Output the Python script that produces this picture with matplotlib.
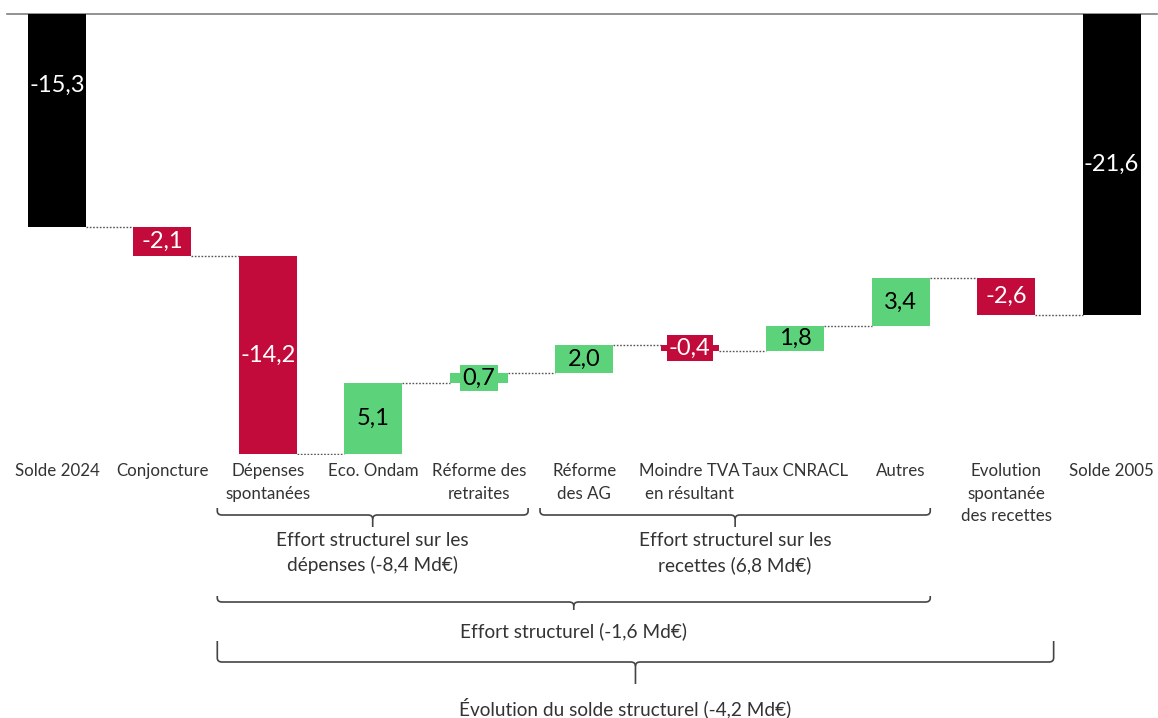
import numpy as np
import matplotlib
matplotlib.use("Agg")
import matplotlib.pyplot as plt
from matplotlib.path import Path
from matplotlib.patches import PathPatch

plt.rcParams["font.family"] = ["Lato", "DejaVu Sans"]

# --- data ---
categories = [
    "Solde 2024", "Conjoncture", "Dépenses\nspontanées", "Eco. Ondam",
    "Réforme des\nretraites", "Réforme\ndes AG", "Moindre TVA\nen résultant",
    "Taux CNRACL", "Autres", "Evolution\nspontanée\ndes recettes", "Solde 2005",
]
values = [-15.3, -2.1, -14.2, 5.1, 0.7, 2.0, -0.4, 1.8, 3.4, -2.6, -21.6]
is_total = [True, False, False, False, False, False, False, False, False, False, True]

# brackets under the axis: (first category, last category, caption)
groups = [
    (2, 4, "Effort structurel sur les\ndépenses (-8,4 Md€)"),
    (5, 8, "Effort structurel sur les\nrecettes (6,8 Md€)"),
    (2, 8, "Effort structurel (-1,6 Md€)"),
    (2, 9, "Évolution du solde structurel (-4,2 Md€)"),
]

RED = "#c20b3b"
GREEN = "#5cd27a"
BLACK = "#000000"
TEXT = "#333333"
BAR_W = 0.55
PX_PER_UNIT = 13.92

# running totals
bottoms, tops = [], []
level = 0.0
for v, tot in zip(values, is_total):
    if tot:
        bottoms.append(0.0)
        tops.append(v)
        level = v
    else:
        bottoms.append(level)
        tops.append(level + v)
        level += v

fig = plt.figure(figsize=(11.58, 7.18), dpi=100)
ax = fig.add_axes([7 / 1158, 1 - 455 / 718, 1150 / 1158, 441 / 718])
ax.set_ylim(-441 / PX_PER_UNIT, 0)
ax.set_xlim(-0.474, 10.43)

x = np.arange(len(values))
colors = [BLACK if tot else (GREEN if v > 0 else RED)
          for v, tot in zip(values, is_total)]

ax.bar(x, np.array(tops) - np.array(bottoms), bottom=bottoms, width=BAR_W,
       color=colors, zorder=3)

# dotted connectors between bars
for i in range(len(values) - 1):
    ax.plot([x[i] + BAR_W / 2, x[i + 1] - BAR_W / 2], [tops[i], tops[i]],
            color="#555555", linewidth=1.0, linestyle=(0, (1.2, 1.2)), zorder=2)

# value labels
for i, v in enumerate(values):
    lo, hi = sorted([bottoms[i], tops[i]])
    yc = hi - (hi - lo) / 3 if i == 0 else (lo + hi) / 2
    txt_color = "black" if colors[i] == GREEN else "white"
    label = f"{v:.1f}".replace(".", ",")
    kw = {}
    if abs(v) < 1.5:
        kw["bbox"] = dict(boxstyle="square,pad=0.1", facecolor=colors[i],
                          edgecolor="none")
    ax.text(x[i], yc, label, ha="center", va="center", fontsize=17,
            color=txt_color, zorder=4, **kw)

ax.set_xticks(x)
ax.set_xticklabels(categories, fontsize=12.2, color=TEXT, linespacing=1.5,
                   va="top")
ax.tick_params(axis="x", length=0, pad=6)
ax.set_yticks([])
for s in ["left", "right", "bottom"]:
    ax.spines[s].set_visible(False)
ax.spines["top"].set_color("#7f7f7f")
ax.spines["top"].set_linewidth(1.2)


def to_y(px):
    return -(px - 14) / PX_PER_UNIT


def brace(x0, x1, y_px, up_px, down_px):
    rx = 0.045
    r = 4 / PX_PER_UNIT
    y = to_y(y_px)
    yu = to_y(y_px - up_px)
    yd = to_y(y_px + down_px)
    xm = (x0 + x1) / 2
    left = [(x0, yu), (x0, y + r), (x0, y), (x0 + rx, y),
            (xm - rx, y), (xm, y), (xm, y - r), (xm, yd)]
    right = [(x1, yu), (x1, y + r), (x1, y), (x1 - rx, y),
             (xm + rx, y), (xm, y), (xm, y - r)]
    codes = [Path.MOVETO, Path.LINETO, Path.CURVE3, Path.CURVE3,
             Path.LINETO, Path.CURVE3, Path.CURVE3, Path.LINETO]
    for verts in (left, right):
        ax.add_patch(PathPatch(Path(verts, codes[:len(verts)]),
                               facecolor="none", edgecolor="#444444",
                               linewidth=1.2, clip_on=False))
    return xm


# (line y, end height, tick depth, caption y) in pixels, x-offset of caption
brace_style = [(515, 7, 12, 553, 0.0), (515, 7, 12, 553, 0.0),
               (602, 6, 8, 631, 0.0), (662, 21, 22, 708, -0.1)]
end_pad = {4: 0.467, 8: 0.28, 9: 0.45}
for (a, b, caption), (ypx, up, down, typx, dx) in zip(groups, brace_style):
    x0 = a - 0.48 if a == 2 else a - 0.42
    x1 = b + end_pad[b]
    xm = brace(x0, x1, ypx, up, down)
    ax.text(xm + dx, to_y(typx), caption, ha="center", va="center",
            fontsize=13.7, color=TEXT, linespacing=1.45, clip_on=False)

fig.savefig("out.png", dpi=100)
